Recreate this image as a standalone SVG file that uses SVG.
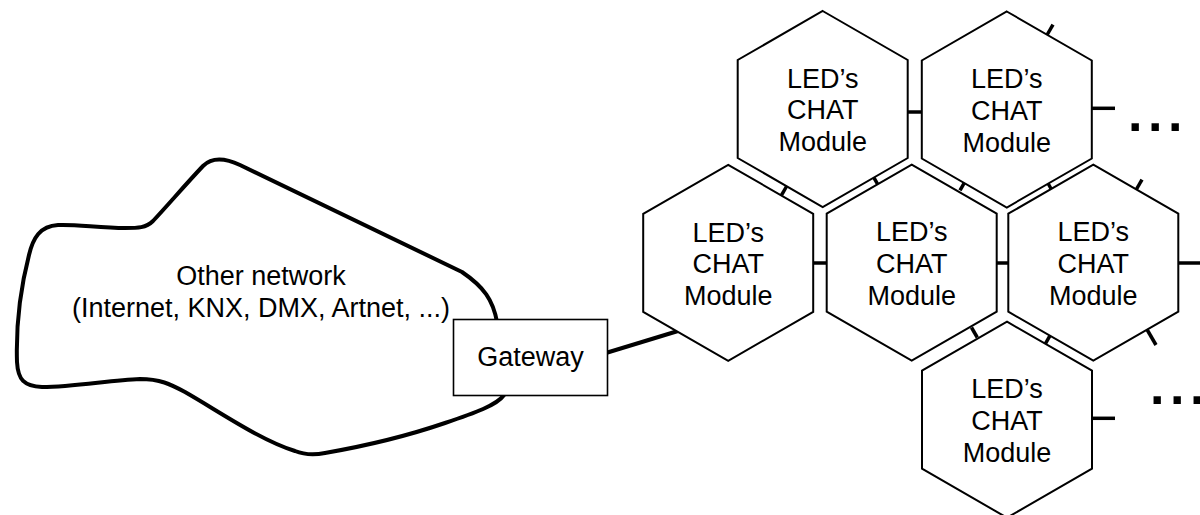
<svg xmlns="http://www.w3.org/2000/svg" xmlns:xlink="http://www.w3.org/1999/xlink" width="1200" height="515" viewBox="0 0 1200 515">
  <style>
    .hex { fill: #fff; stroke: #000; stroke-width: 2; stroke-linejoin: miter; }
    .lbl { font-family: "Liberation Sans", Arial, Helvetica, sans-serif; font-size: 27px; fill: #000; text-anchor: middle; }
    .tick { stroke: #000; stroke-width: 3.5; fill: none; }
    .link { stroke: #000; stroke-width: 4; fill: none; }
    .cloud { fill: #fff; stroke: #000; stroke-width: 4; stroke-linejoin: round; }
    .box { fill: #fff; stroke: #000; stroke-width: 1.6; }
    .dots { font-family: "Liberation Sans", Arial, Helvetica, sans-serif; font-weight: bold; font-size: 52px; letter-spacing: 5.5px; fill: #000; }
  </style>
  <defs>
    <polygon id="hexshape" class="hex" points="0,-98 85,-49 85,49 0,98 -85,49 -85,-49"/>
  </defs>
  <rect width="1200" height="515" fill="#fff"/>

  <g id="cloud">
    <path class="cloud" d="M 497,322 C 493,300 484,287 462,272 L 240,165 C 225,158 212,157 203,166 C 185,185 168,205 153,221 C 146,228 138,228 125,228 C 100,228 75,224 58,225 C 40,226 33,238 29,255 C 20,290 16,330 17,362 C 18,380 24,386 42,387 C 75,387 110,380 140,379 C 160,379 170,384 185,392 C 220,412 260,440 295,451 C 305,455 315,455 325,453 C 365,446 410,435 445,423 C 475,413 497,405 504,395 Z"/>
    <text class="lbl" x="261" y="285">Other network</text>
    <text class="lbl" x="261" y="316.5">(Internet, KNX, DMX, Artnet, ...)</text>
  </g>

  <g id="connectors">
    <line class="link" x1="607.5" y1="352.5" x2="678" y2="331"/>
    <!-- horizontal links -->
    <line class="tick" x1="907.7" y1="112" x2="922" y2="112"/>
    <line class="tick" x1="812.9" y1="263" x2="826.7" y2="263"/>
    <line class="tick" x1="996.7" y1="263" x2="1008.3" y2="263"/>
    <!-- diagonal links -->
    <line class="tick" x1="786.5" y1="186.5" x2="781.5" y2="195.2"/>
    <line class="tick" x1="873.3" y1="176.7" x2="878.3" y2="185.3"/>
    <line class="tick" x1="960" y1="190.3" x2="965" y2="181.7"/>
    <line class="tick" x1="1047.5" y1="182.5" x2="1051.8" y2="190"/>
    <line class="tick" x1="971.5" y1="327.5" x2="977.3" y2="337.5"/>
    <line class="tick" x1="1050" y1="335.7" x2="1045" y2="344.4"/>
    <!-- open stubs -->
    <line class="tick" x1="1091.7" y1="108.3" x2="1115" y2="108.3"/>
    <line class="tick" x1="1047" y1="35" x2="1053" y2="24.6"/>
    <line class="tick" x1="1136" y1="190" x2="1142" y2="179.6"/>
    <line class="tick" x1="1178.3" y1="263" x2="1200" y2="263"/>
    <line class="tick" x1="1147" y1="329.5" x2="1156" y2="345"/>
    <line class="tick" x1="1091.7" y1="418.3" x2="1115" y2="418.3"/>
  </g>

  <g id="gateway">
    <rect class="box" x="453.5" y="319.5" width="154" height="76"/>
    <text class="lbl" x="530.5" y="366">Gateway</text>
  </g>

  <g id="hex1" transform="translate(822.7,109)">
    <use xlink:href="#hexshape" href="#hexshape"/>
    <text class="lbl" x="0" y="-21.3">LED’s</text>
    <text class="lbl" x="0" y="10.3">CHAT</text>
    <text class="lbl" x="0" y="42">Module</text>
  </g>
  <g id="hex2" transform="translate(1006.8,109.5)">
    <use xlink:href="#hexshape" href="#hexshape"/>
    <text class="lbl" x="0" y="-21.3">LED’s</text>
    <text class="lbl" x="0" y="10.3">CHAT</text>
    <text class="lbl" x="0" y="42">Module</text>
  </g>
  <g id="hex3" transform="translate(728.2,262.8)">
    <use xlink:href="#hexshape" href="#hexshape"/>
    <text class="lbl" x="0" y="-21.3">LED’s</text>
    <text class="lbl" x="0" y="10.3">CHAT</text>
    <text class="lbl" x="0" y="42">Module</text>
  </g>
  <g id="hex4" transform="translate(911.7,262.7)">
    <use xlink:href="#hexshape" href="#hexshape"/>
    <text class="lbl" x="0" y="-21.3">LED’s</text>
    <text class="lbl" x="0" y="10.3">CHAT</text>
    <text class="lbl" x="0" y="42">Module</text>
  </g>
  <g id="hex5" transform="translate(1093.3,262.7)">
    <use xlink:href="#hexshape" href="#hexshape"/>
    <text class="lbl" x="0" y="-21.3">LED’s</text>
    <text class="lbl" x="0" y="10.3">CHAT</text>
    <text class="lbl" x="0" y="42">Module</text>
  </g>
  <g id="hex6" transform="translate(1007,419.7)">
    <use xlink:href="#hexshape" href="#hexshape"/>
    <text class="lbl" x="0" y="-21.3">LED’s</text>
    <text class="lbl" x="0" y="10.3">CHAT</text>
    <text class="lbl" x="0" y="42">Module</text>
  </g>

  <g id="ellipses">
    <text class="dots" x="1128" y="130.7">...</text>
    <text class="dots" x="1150" y="404">...</text>
  </g>
</svg>
